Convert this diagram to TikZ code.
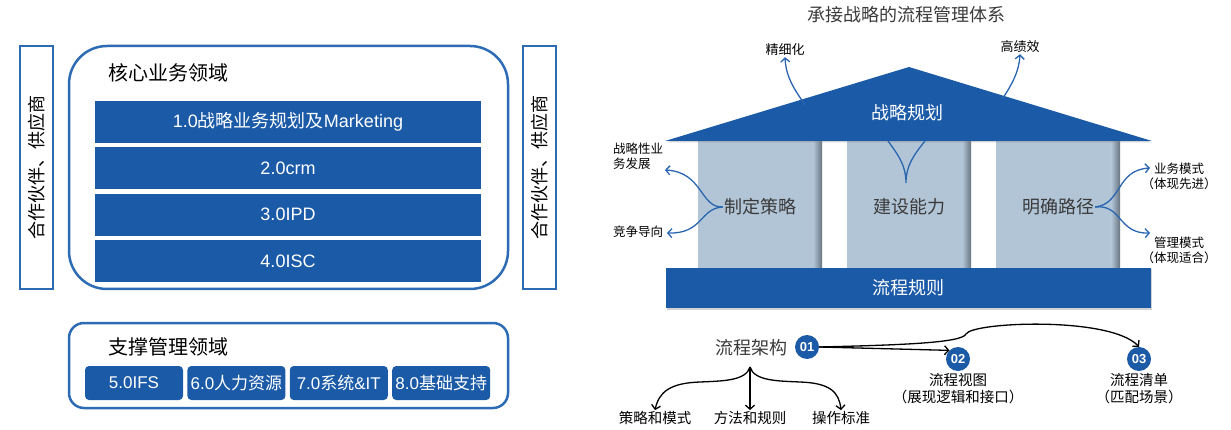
\documentclass[tikz,border=0pt]{standalone}
\usepackage{fontspec}
\setmainfont{Noto Sans CJK SC}
\newfontfamily\arial{Liberation Sans}
\usetikzlibrary{positioning,arrows.meta,shadows}
\definecolor{barblue}{HTML}{1B5AA7}
\definecolor{boxline}{HTML}{2D6CB4}
\definecolor{pillarblue}{HTML}{B2C5D7}
\definecolor{pillardark}{HTML}{66727E}
\definecolor{curveblue}{HTML}{2A66B0}
\definecolor{titlegrey}{HTML}{3A3A3A}
\newcommand{\fs}[2]{\fontsize{#1}{#2}\selectfont}

\begin{document}
\begin{tikzpicture}[
        x=1pt, y=-1pt,
        >={Straight Barb[length=4pt,width=9pt]},
        every node/.style={inner sep=1pt},
        sidebox/.style={draw=boxline, line width=2.5pt, minimum width=243pt, minimum height=33pt, rotate=90, font=\fs{18}{20}},
        areabox/.style={draw=boxline, line width=2.5pt, fill=white},
        corebar/.style={fill=barblue, text=white, minimum width=386pt, minimum height=42pt, inner sep=0pt, font=\fs{18}{20}},
        supbox/.style={fill=barblue, rounded corners=4pt, text=white, minimum width=98pt, minimum height=34pt, inner sep=0pt, font=\fs{17}{19}},
        areatitle/.style={anchor=west, font=\fs{20}{22}},
        pillar/.style={fill=pillarblue, minimum width=124pt, minimum height=127pt, inner sep=0pt},
        pillartext/.style={text=titlegrey, font=\fs{18}{20}},
        band/.style={fill=barblue, text=white, font=\fs{18}{20}},
        smalltext/.style={font=\fs{12.5}{15}, align=center},
        leaftext/.style={font=\fs{14.5}{17}, align=center},
        stepnum/.style={circle, fill=barblue, text=white, minimum size=24pt, inner sep=0pt, font=\arial\bfseries\fs{13}{13}},
        bluelink/.style={->, draw=curveblue, line width=1.3pt},
        blacklink/.style={->, draw=black, line width=1.3pt}
    ]
        \useasboundingbox (0,0) rectangle (1231,430);

        \node[sidebox] (lpart) at (36.5,167.5) {合作伙伴、供应商};
        \node[sidebox] (rpart) at (539.5,167.5) {合作伙伴、供应商};

        \node[areabox, rounded corners=38pt, minimum width=439pt, minimum height=243pt] (core) at (288.5,167.5) {};
        \node[areatitle] (coretitle) at (107,73) {核心业务领域};
        \node[corebar] (bar1) at (288,122) {{\arial 1.0}战略业务规划及{\arial Marketing}};
        \node[corebar, below=4pt of bar1] (bar2) {\arial 2.0crm};
        \node[corebar, below=4pt of bar2] (bar3) {\arial 3.0IPD};
        \node[corebar, below=4pt of bar3] (bar4) {\arial 4.0ISC};

        \node[areabox, rounded corners=15pt, minimum width=439pt, minimum height=85pt] (support) at (288.5,365.5) {};
        \node[areatitle] (suptitle) at (107,347) {支撑管理领域};
        \node[supbox] (ifs) at (134,383) {\arial 5.0IFS};
        \node[supbox, right=4pt of ifs] (hr) {{\arial 6.0}人力资源};
        \node[supbox, right=4pt of hr] (sys) {{\arial 7.0}系统{\arial \&IT}};
        \node[supbox, right=4pt of sys] (base) {{\arial 8.0}基础支持};

        \node[text=titlegrey, font=\fs{18}{20}] (title) at (906,15) {承接战略的流程管理体系};

        \node[pillar] (p1) at (760,204.5) {};
        \node[pillar] (p2) at (909,204.5) {};
        \node[pillar] (p3) at (1058,204.5) {};
        \foreach \p in {p1,p2,p3}
            \shade[left color=pillarblue, right color=pillardark] ([xshift=-9pt]\p.north east) rectangle (\p.south east);

        \fill[barblue, drop shadow={shadow xshift=1pt, shadow yshift=-1.5pt, opacity=.35}] (665,141) -- (909,67) -- (1152,141) -- cycle;
        \node[text=white, font=\fs{18}{20}] (roof) at (907,113) {战略规划};
        \node[band, minimum width=485pt, minimum height=40pt, drop shadow={shadow xshift=1pt, shadow yshift=-1.5pt, opacity=.35}] (rule) at (908.5,288) {流程规则};

        \node[pillartext] (zd) at (760,207) {制定策略};
        \node[pillartext] (js) at (909,207) {建设能力};
        \node[pillartext] (mq) at (1058,207) {明确路径};

        \node[font=\fs{13}{15}] (jxh) at (785,50) {精细化};
        \node[font=\fs{13}{15}] (gjx) at (1020,47) {高绩效};
        \coordinate (jxhfoot) at (805,105);
        \coordinate (gjxfoot) at (1003,98);
        \draw[bluelink] (jxhfoot) .. controls (795,90) and (786,78) .. (jxh.south);
        \draw[bluelink] (gjxfoot) .. controls (1012,84) and (1019,72) .. (gjx.south);

        \coordinate (vtip) at (906,183);
        \draw[curveblue, line width=1.3pt] (888,141) .. controls (899,156) and (906,166) .. (vtip) .. controls (906,166) and (913,156) .. (925,141);

        \node[smalltext, anchor=north west, align=left] (fazhan) at (612,142) {战略性业\\务发展};
        \node[smalltext, anchor=west] (jingzheng) at (612,232) {竞争导向};
        \coordinate (fazhantip) at (665,170);
        \coordinate (jingzhengtip) at (667,233);
        \draw[bluelink] (zd.west) .. controls (700,208) and (703,172) .. (fazhantip);
        \draw[bluelink] (zd.west) .. controls (700,208) and (703,234) .. (jingzhengtip);

        \node[smalltext] (xianjin) at (1179,176) {业务模式\\（体现先进）};
        \node[smalltext] (shihe) at (1179,250) {管理模式\\（体现适合）};
        \coordinate (xianjintip) at (1150,168);
        \coordinate (shihetip) at (1150,233);
        \draw[bluelink] (mq.east) .. controls (1122,204) and (1116,170) .. (xianjintip);
        \draw[bluelink] (mq.east) .. controls (1122,204) and (1118,234) .. (shihetip);

        \node[text=titlegrey, font=\fs{18}{20}] (lcjg) at (751,348) {流程架构};
        \node[stepnum] (o1) at (807,347) {01};
        \node[stepnum] (o2) at (958,359) {02};
        \node[stepnum] (o3) at (1139,359) {03};
        \node[leaftext, below=1pt of o2] (view) {流程视图\\（展现逻辑和接口）};
        \node[leaftext, below=1pt of o3] (list) {流程清单\\（匹配场景）};

        \draw[blacklink] (o1.east) -- (o2.north west);
        \draw[blacklink] (o1.east) .. controls (900,345) and (962,343) .. (966,334) .. controls (972,322) and (1110,316) .. (o3.north);

        \coordinate (troot) at (750,367);
        \node[leaftext] (celve) at (655,418) {策略和模式};
        \node[leaftext] (fangfa) at (750,418) {方法和规则};
        \node[leaftext] (caozuo) at (841,418) {操作标准};
        \draw[blacklink] (troot) .. controls (746,381) and (722,381) .. (700,382) .. controls (670,383) and (659,392) .. (celve.north);
        \draw[blacklink] (troot) -- (fangfa.north);
        \draw[blacklink] (troot) .. controls (754,381) and (778,381) .. (800,382) .. controls (830,383) and (839,392) .. (caozuo.north);
    \end{tikzpicture}
\end{document}
